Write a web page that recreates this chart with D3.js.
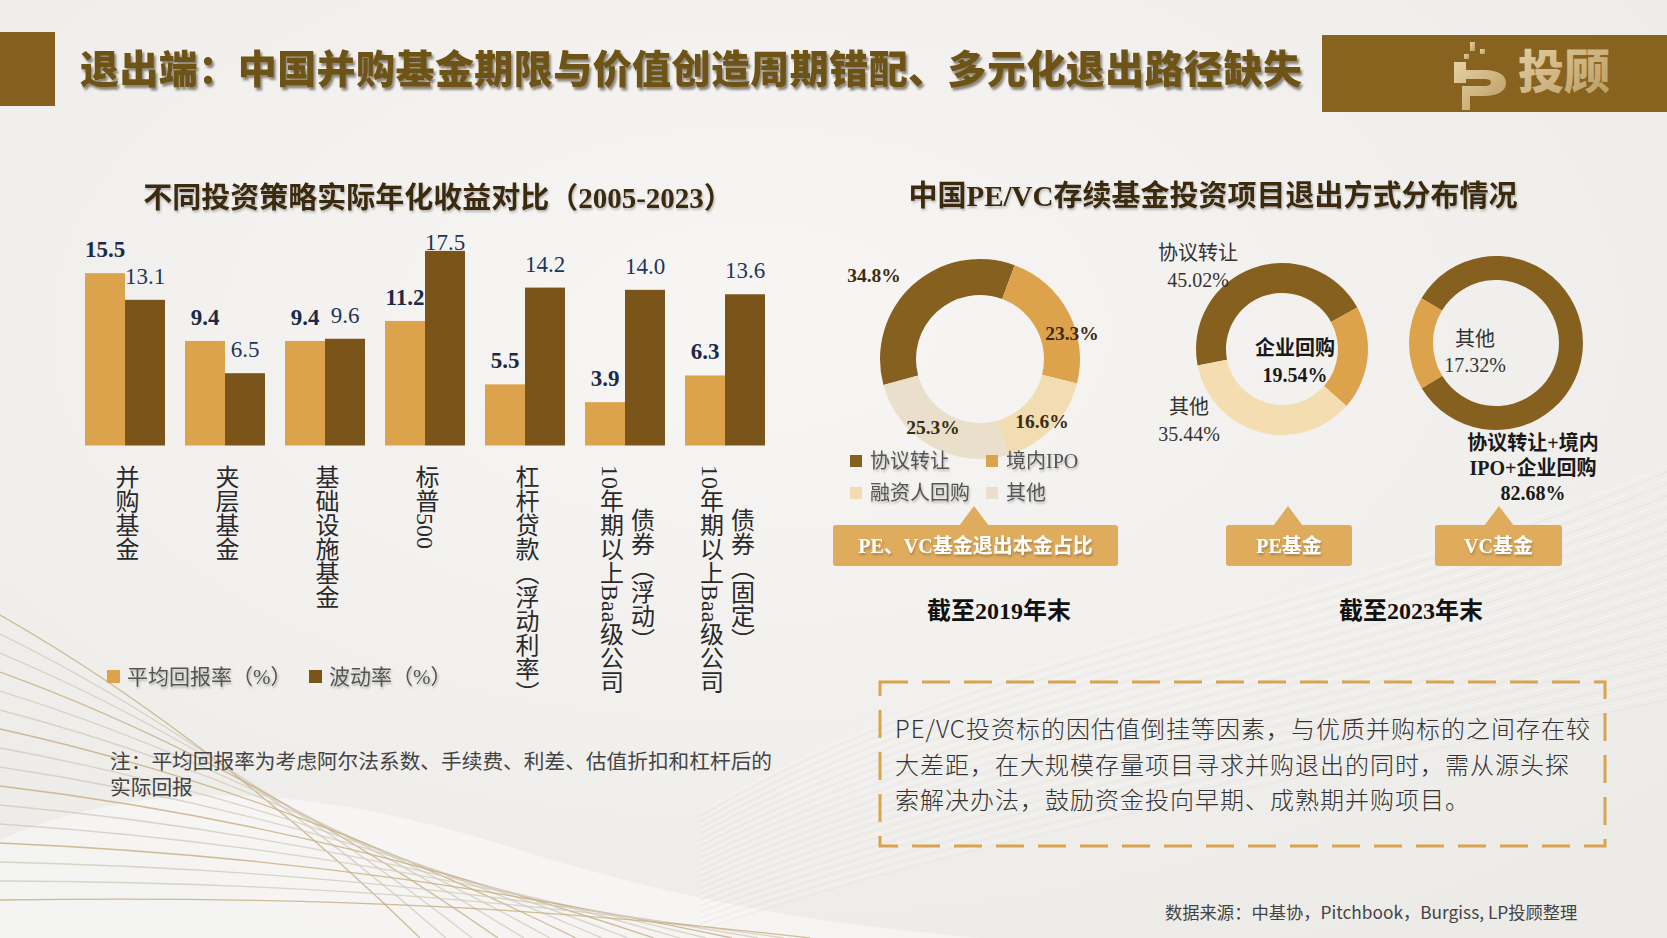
<!DOCTYPE html>
<html>
<head>
<meta charset="utf-8">
<script src="https://cdn.jsdelivr.net/npm/d3@7"></script>
<style>
  html, body { margin: 0; padding: 0; background: #f3f2f0; }
  svg { display: block; }
  .serif { font-family: "Liberation Serif", "Noto Sans CJK SC", serif; }
  .sans { font-family: "Noto Sans CJK SC", "Noto Sans", sans-serif; }
</style>
</head>
<body>
<div id="chart"></div>
<script>
// ---- data ----
const categories = ['并购基金', '夹层基金', '基础设施基金', '标普500', '杠杆贷款（浮动利率）', '10年期以上Baa级公司债券（浮动）', '10年期以上Baa级公司债券（固定）']
const categoryLines = [['并购基金'], ['夹层基金'], ['基础设施基金'], ['标普500'], ['杠杆贷款（浮动利率）'], ['10年期以上Baa级公司', '债券（浮动）'], ['10年期以上Baa级公司', '债券（固定）']]
const avgReturn = [15.5, 9.4, 9.4, 11.2, 5.5, 3.9, 6.3]
const volatility = [13.1, 6.5, 9.6, 17.5, 14.2, 14.0, 13.6]
const seriesNames = ['平均回报率（%）', '波动率（%）']

const exit2019Labels = ['协议转让', '境内IPO', '融资人回购', '其他']
const exit2019Values = [34.8, 23.3, 16.6, 25.3]

const pe2023Labels = ['协议转让', '企业回购', '其他']
const pe2023Values = [45.02, 19.54, 35.44]

const vc2023Labels = ['协议转让+境内IPO+企业回购', '其他']
const vc2023Values = [82.68, 17.32]

// ---- layout ----
const width = 1667, height = 938
const ORANGE = '#dca34c', DARK = '#7b5419', RING_DARK = '#86601f', PALE = '#f2ddb2', PALER = '#eadfca'
const BOX = '#dfab5d'

const svg = d3.select('#chart').append('svg')
  .attr('width', width).attr('height', height)

const defs = svg.append('defs')
const bg = defs.append('radialGradient').attr('id', 'bg').attr('cx', '45%').attr('cy', '35%').attr('r', '75%')
bg.append('stop').attr('offset', '0%').attr('stop-color', '#f7f6f4')
bg.append('stop').attr('offset', '100%').attr('stop-color', '#ecebe8')
svg.append('rect').attr('width', width).attr('height', height).attr('fill', 'url(#bg)')

const shadow = defs.append('filter').attr('id', 'tshadow').attr('x', '-5%').attr('y', '-20%').attr('width', '110%').attr('height', '150%')
shadow.append('feDropShadow').attr('dx', 2).attr('dy', 3).attr('stdDeviation', 1.2).attr('flood-color', '#3a3020').attr('flood-opacity', 0.55)
const soft = defs.append('filter').attr('id', 'soft').attr('x', '-5%').attr('y', '-20%').attr('width', '110%').attr('height', '150%')
soft.append('feDropShadow').attr('dx', 1).attr('dy', 2).attr('stdDeviation', 1).attr('flood-color', '#000').attr('flood-opacity', 0.25)
const gold = defs.append('linearGradient').attr('id', 'gold').attr('x1', '0').attr('y1', '0').attr('x2', '1').attr('y2', '1')
gold.append('stop').attr('offset', '0%').attr('stop-color', '#e6d3a6')
gold.append('stop').attr('offset', '100%').attr('stop-color', '#b99a62')

// background decoration: thin diagonal lines lower left, soft waves lower right
const deco = svg.append('g').attr('class', 'deco')
deco.append('path')
  .attr('d', 'M0,840 C160,770 330,790 520,850 C680,900 820,925 980,938 L0,938 Z')
  .attr('fill', '#ffffff').attr('opacity', 0.45)
d3.range(16).forEach(i => {
  deco.append('path')
    .attr('d', `M0,${615 + i * 19} C${150 + i * 12},${700 + i * 13} ${300 + i * 18},${820 + i * 6} ${420 + i * 26},${938}`)
    .attr('fill', 'none')
    .attr('stroke', i % 3 === 0 ? '#c6ad7c' : '#d2cbbd')
    .attr('stroke-width', 1.3)
    .attr('opacity', 0.8)
})
d3.range(40).forEach(i => {
  deco.append('path')
    .attr('d', `M${700},${930 - i * 3} C${1000},${830 - i * 5} ${1300},${780 - i * 4} ${1667},${700 - i * 6}`)
    .attr('fill', 'none')
    .attr('stroke', i % 2 ? '#ffffff' : '#dcd8d0')
    .attr('stroke-width', 1)
    .attr('opacity', 0.35)
})

// ---- header ----
svg.append('rect').attr('x', 0).attr('y', 32).attr('width', 55).attr('height', 74).attr('fill', '#85601f')
svg.append('rect').attr('x', 1322).attr('y', 35).attr('width', 345).attr('height', 77).attr('fill', '#88631f')
svg.append('text').attr('class', 'sans')
  .attr('x', 80).attr('y', 83)
  .attr('font-size', 39).attr('font-weight', 900)
  .attr('fill', '#6e5219')
  .attr('filter', 'url(#tshadow)')
  .attr('textLength', 1222)
  .text('退出端：中国并购基金期限与价值创造周期错配、多元化退出路径缺失')

// logo
const logo = svg.append('g').attr('transform', 'translate(1452,42)').attr('fill', 'url(#gold)')
logo.append('rect').attr('x', 18).attr('y', 0).attr('width', 5).attr('height', 9)
logo.append('rect').attr('x', 28).attr('y', 7).attr('width', 5).attr('height', 5)
logo.append('rect').attr('x', 12).attr('y', 12).attr('width', 5).attr('height', 5)
logo.append('path').attr('d', 'M2,20 h12 v8 h18 c14,0 22,5 22,13 c0,8 -8,13 -22,13 h-14 v14 h-8 v-24 h22 c5,0 7,-1 7,-4 c0,-2 -2,-3 -7,-3 h-18 v4 h-12 z')
logo.append('text').attr('class', 'sans')
  .attr('x', 66).attr('y', 46).attr('font-size', 46).attr('font-weight', 900)
  .text('投顾')

// ---- left: bar chart ----
const barTop = 223.1, baseY = 445.5
const x0 = d3.scaleBand().domain(categories).range([75, 775]).paddingInner(0.2).paddingOuter(0.1)
const x1 = d3.scaleBand().domain(seriesNames).range([0, x0.bandwidth()])
const y = d3.scaleLinear().domain([0, 20]).range([baseY, barTop])
const colorBar = d3.scaleOrdinal().domain(seriesNames).range([ORANGE, DARK])

svg.append('text').attr('class', 'serif')
  .attr('x', 438).attr('y', 208).attr('text-anchor', 'middle')
  .attr('font-size', 29).attr('font-weight', 'bold').attr('fill', '#3a2a10')
  .attr('filter', 'url(#soft)')
  .text('不同投资策略实际年化收益对比（2005-2023）')

const barData = categories.map((c, i) => ({ cat: c, lines: categoryLines[i], vals: [avgReturn[i], volatility[i]] }))

const groups = svg.append('g').selectAll('g.grp').data(barData).join('g')
  .attr('class', 'grp')
  .attr('transform', d => `translate(${x0(d.cat)},0)`)

groups.selectAll('rect').data(d => d.vals.map((v, j) => ({ key: seriesNames[j], v }))).join('rect')
  .attr('x', d => x1(d.key))
  .attr('y', d => y(d.v))
  .attr('width', x1.bandwidth())
  .attr('height', d => baseY - y(d.v))
  .attr('fill', d => colorBar(d.key))

groups.selectAll('text.val').data(d => d.vals.map((v, j) => ({ key: seriesNames[j], v, j }))).join('text')
  .attr('class', 'val serif')
  .attr('x', d => x1(d.key) + x1.bandwidth() / 2)
  .attr('y', d => Math.max(y(d.v) - 16, 250))
  .attr('text-anchor', 'middle')
  .attr('font-size', 23)
  .attr('font-weight', d => d.j === 0 ? 'bold' : 'normal')
  .attr('fill', d => d.j === 0 ? '#1b2a48' : '#22355a')
  .text(d => d3.format('.1f')(d.v))

// vertical category labels
groups.each(function (d) {
  const g = d3.select(this)
  const cx = x0.bandwidth() / 2
  const n = d.lines.length
  d.lines.forEach((line, k) => {
    g.append('text').attr('class', 'serif')
      .attr('x', n === 1 ? cx : cx + (k === 0 ? -15.5 : 15.5))
      .attr('y', k === 0 ? 465 : 508)
      .style('writing-mode', 'vertical-rl')
      .style('text-orientation', 'mixed')
      .attr('font-size', 24)
      .attr('fill', '#2a2a2a')
      .text(line)
  })
})

// legend
const legBar = svg.append('g').attr('class', 'serif')
const legX = [107, 309]
seriesNames.forEach((s, i) => {
  legBar.append('rect').attr('x', legX[i]).attr('y', 670).attr('width', 13).attr('height', 13).attr('fill', colorBar(s))
  legBar.append('text').attr('x', legX[i] + 20).attr('y', 684).attr('font-size', 21).attr('fill', '#555')
    .attr('filter', 'url(#soft)').text(s)
})

svg.append('text').attr('class', 'serif').attr('x', 110).attr('y', 769).attr('font-size', 20.7).attr('fill', '#444')
  .text('注：平均回报率为考虑阿尔法系数、手续费、利差、估值折扣和杠杆后的')
svg.append('text').attr('class', 'serif').attr('x', 110).attr('y', 795).attr('font-size', 20.7).attr('fill', '#444')
  .text('实际回报')

// ---- right: donuts ----
svg.append('text').attr('class', 'serif')
  .attr('x', 1213).attr('y', 206).attr('text-anchor', 'middle')
  .attr('font-size', 29).attr('font-weight', 'bold').attr('fill', '#3a2a10')
  .attr('filter', 'url(#soft)')
  .text('中国PE/VC存续基金投资项目退出方式分布情况')

const deg = Math.PI / 180
function drawDonut(cx, cy, rOut, rIn, labels, values, colors, start) {
  const pie = d3.pie().sort(null).value(d => d.v).startAngle(start * deg).endAngle((start + 360) * deg)
  const arc = d3.arc().innerRadius(rIn).outerRadius(rOut)
  const g = svg.append('g').attr('transform', `translate(${cx},${cy})`)
  g.selectAll('path').data(pie(labels.map((l, i) => ({ l, v: values[i] })))).join('path')
    .attr('d', arc)
    .attr('fill', (d, i) => colors[i])
  return g
}

// 2019 donut
const c2019 = [RING_DARK, ORANGE, PALE, PALER]
const d1 = drawDonut(980, 359, 100, 64, exit2019Labels, exit2019Values, c2019, 255)
const d1Label = [[-106, -84], [92, -26], [62, 62], [-47, 68]]
exit2019Values.forEach((v, i) => {
  d1.append('text').attr('class', 'serif')
    .attr('x', d1Label[i][0]).attr('y', d1Label[i][1] + 7)
    .attr('text-anchor', 'middle').attr('font-size', 19.5).attr('font-weight', 'bold').attr('fill', '#3b2c12')
    .text(v.toFixed(1) + '%')
})
// legend 2019
const leg1 = svg.append('g').attr('class', 'serif')
exit2019Labels.forEach((l, i) => {
  const lx = i % 2 === 0 ? 850 : 986
  const ly = i < 2 ? 461 : 493
  leg1.append('rect').attr('x', lx).attr('y', ly - 6).attr('width', 12).attr('height', 12).attr('fill', c2019[i])
  leg1.append('text').attr('x', lx + 20).attr('y', ly + 7).attr('font-size', 20).attr('fill', '#555')
    .attr('filter', 'url(#soft)').text(l)
})

// PE 2023 donut
const cPE = [RING_DARK, ORANGE, '#f3ddb1']
const d2 = drawDonut(1282, 349, 86, 56, pe2023Labels, pe2023Values, cPE, 259)
const d2Pos = [[-84, -96], [13, -1], [-93, 58]]
pe2023Labels.forEach((l, i) => {
  const bold = i === 1
  const t = d2.append('text').attr('class', 'serif').attr('text-anchor', 'middle')
    .attr('font-size', 20).attr('font-weight', bold ? 'bold' : 'normal').attr('fill', bold ? '#1a1a1a' : '#333')
  t.append('tspan').attr('x', d2Pos[i][0]).attr('y', d2Pos[i][1] + 7).text(l)
  t.append('tspan').attr('x', d2Pos[i][0]).attr('y', d2Pos[i][1] + 34).text(pe2023Values[i].toFixed(2) + '%')
})

// VC 2023 donut
const cVC = [RING_DARK, ORANGE]
const d3g = drawDonut(1496, 343, 87, 63, vc2023Labels, vc2023Values, cVC, 301)
d3g.append('text').attr('class', 'serif').attr('text-anchor', 'middle').attr('font-size', 20).attr('fill', '#333')
  .call(t => {
    t.append('tspan').attr('x', -21).attr('y', 3).text(vc2023Labels[1])
    t.append('tspan').attr('x', -21).attr('y', 29).text(vc2023Values[1].toFixed(2) + '%')
  })
d3g.append('text').attr('class', 'serif').attr('text-anchor', 'middle').attr('font-size', 20).attr('font-weight', 'bold').attr('fill', '#1a1a1a')
  .call(t => {
    t.append('tspan').attr('x', 37).attr('y', 107).text('协议转让+境内')
    t.append('tspan').attr('x', 37).attr('y', 132).text('IPO+企业回购')
    t.append('tspan').attr('x', 37).attr('y', 157).text(vc2023Values[0].toFixed(2) + '%')
  })

// callout boxes
function callout(x, w, tipX, label) {
  const g = svg.append('g')
  g.append('path')
    .attr('d', `M${tipX},506 L${tipX + 15},526 L${tipX - 15},526 Z`)
    .attr('fill', BOX)
  g.append('rect').attr('x', x).attr('y', 525).attr('width', w).attr('height', 41).attr('rx', 3).attr('fill', BOX)
  g.append('text').attr('class', 'serif')
    .attr('x', x + w / 2).attr('y', 553).attr('text-anchor', 'middle')
    .attr('font-size', 20).attr('font-weight', 'bold').attr('fill', '#ffffff')
    .attr('filter', 'url(#soft)')
    .text(label)
}
callout(833, 285, 974, 'PE、VC基金退出本金占比')
callout(1226, 126, 1288, 'PE基金')
callout(1435, 127, 1499, 'VC基金')

svg.append('text').attr('class', 'serif').attr('x', 999).attr('y', 619).attr('text-anchor', 'middle')
  .attr('font-size', 24).attr('font-weight', 'bold').attr('fill', '#111').text('截至2019年末')
svg.append('text').attr('class', 'serif').attr('x', 1411).attr('y', 619).attr('text-anchor', 'middle')
  .attr('font-size', 24).attr('font-weight', 'bold').attr('fill', '#111').text('截至2023年末')

// ---- note box ----
svg.append('rect').attr('x', 880).attr('y', 682).attr('width', 725).attr('height', 164)
  .attr('fill', 'none').attr('stroke', '#d9a44e').attr('stroke-width', 3).attr('stroke-dasharray', '28,14')
const noteLines = ['PE/VC投资标的因估值倒挂等因素，与优质并购标的之间存在较', '大差距，在大规模存量项目寻求并购退出的同时，需从源头探', '索解决办法，鼓励资金投向早期、成熟期并购项目。']
noteLines.forEach((l, i) => {
  svg.append('text').attr('class', 'sans').attr('x', 895).attr('y', 738 + i * 35.5)
    .attr('font-size', 24).attr('letter-spacing', 1).attr('font-weight', 300).attr('fill', '#333').text(l)
})

// source
svg.append('text').attr('class', 'sans').attr('x', 1165).attr('y', 919)
  .attr('font-size', 17.3).attr('fill', '#444')
  .text('数据来源：中基协，Pitchbook，Burgiss, LP投顾整理')
</script>
</body>
</html>
